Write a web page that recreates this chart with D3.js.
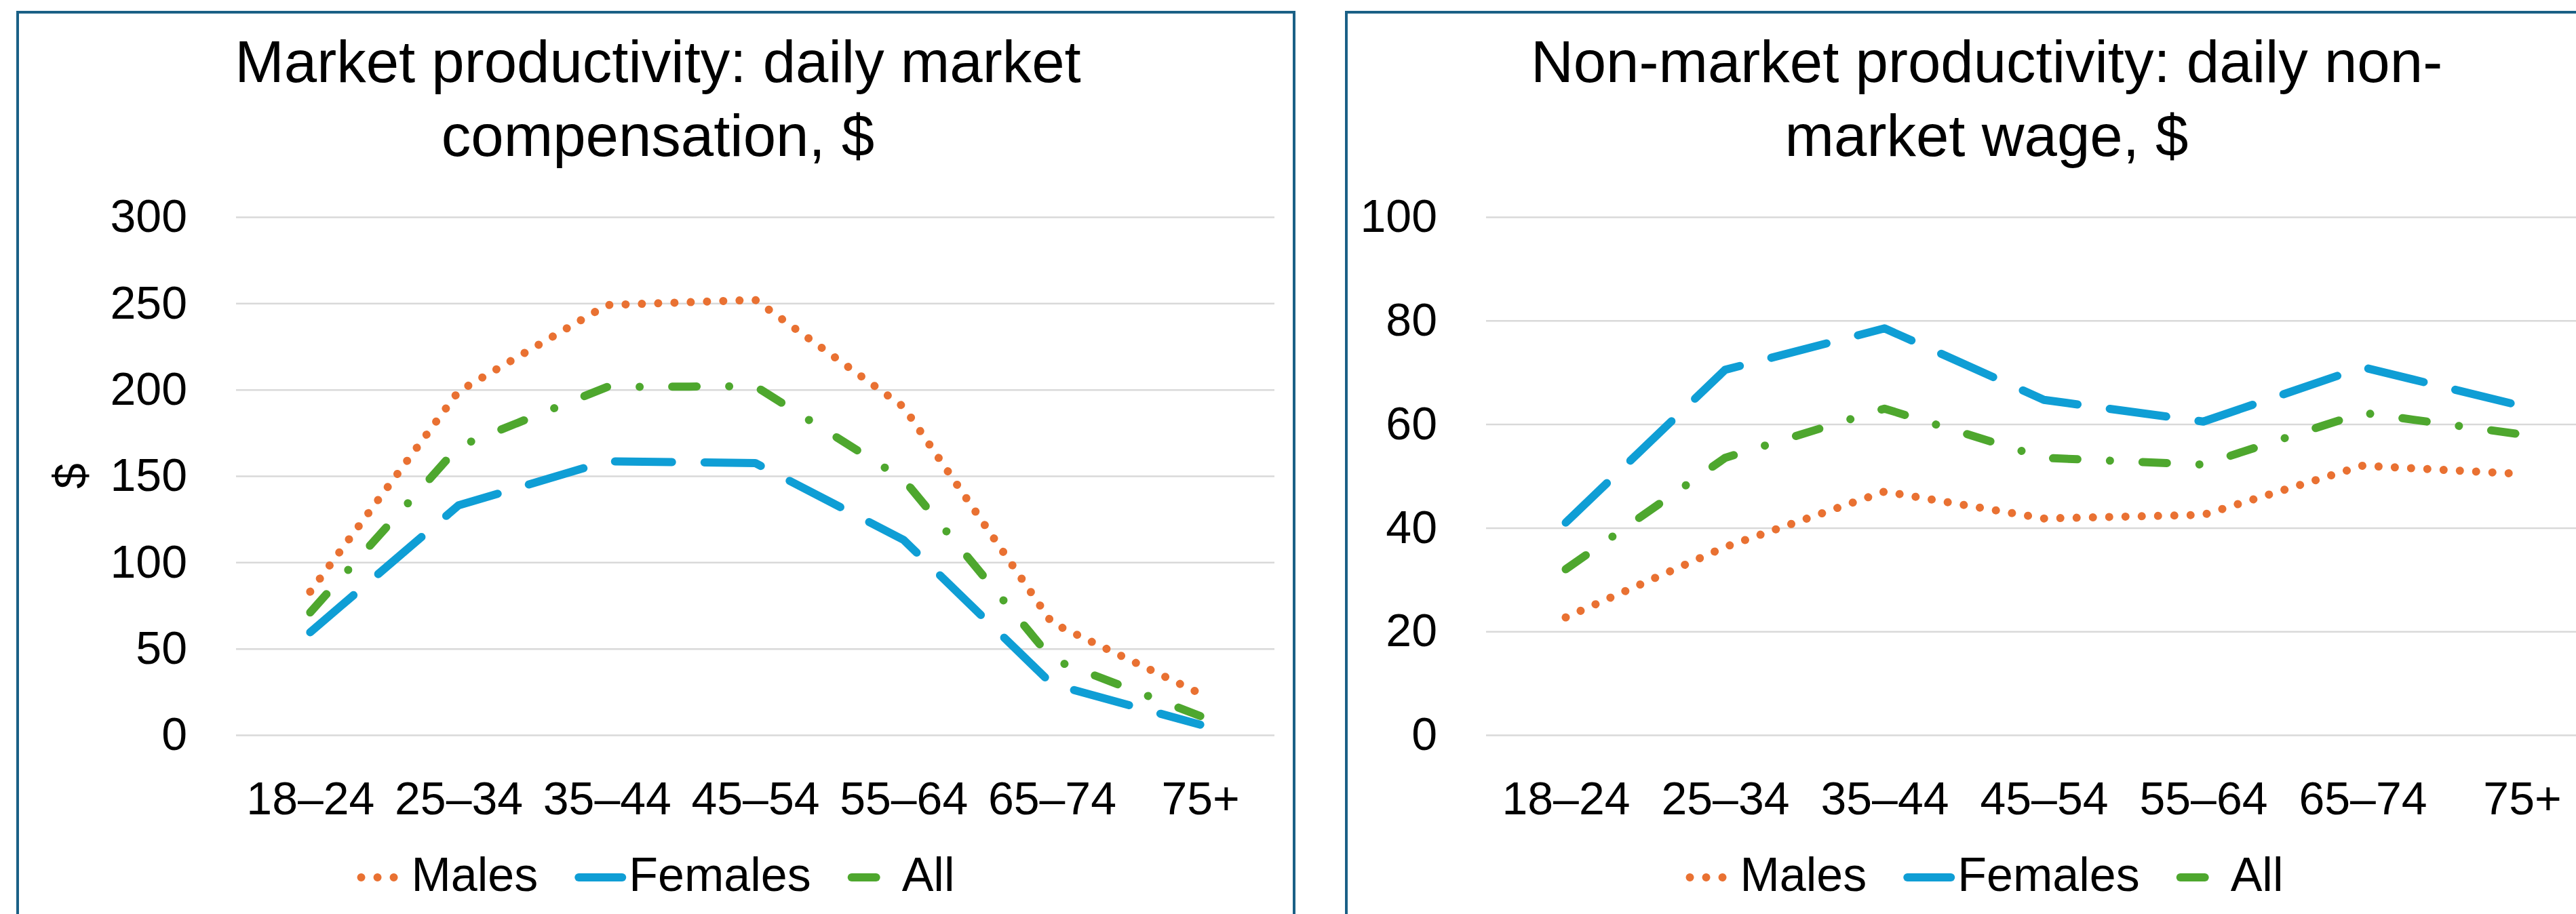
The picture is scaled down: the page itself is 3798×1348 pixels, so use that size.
<!DOCTYPE html>
<html>
<head>
<meta charset="utf-8">
<script src="https://cdn.jsdelivr.net/npm/d3@7"></script>
<style>
  html, body { margin: 0; padding: 0; background: #fff; }
  svg { display: block; font-family: "Liberation Sans", Arial, sans-serif; }
</style>
</head>
<body>
<svg id="chart" width="3798" height="1348"></svg>
<script>
// Age groups shared by both panels
const ageGroups = ["18–24", "25–34", "35–44", "45–54", "55–64", "65–74", "75+"];

// Market productivity: daily market compensation, $
const marketMales   = [83, 199, 249, 252, 190, 65, 24];
const marketFemales = [59.5, 133, 158.5, 157.5, 113, 29.5, 6];
const marketAll     = [71, 167, 201.5, 202, 148, 44, 11];
const marketTicks   = [0, 50, 100, 150, 200, 250, 300];

// Non-market productivity: daily non-market wage, $
const nonMarketMales   = [22.7, 36.3, 47, 41.8, 42.5, 52, 50.4];
const nonMarketFemales = [41, 70.5, 78.5, 64.7, 60.5, 71, 63.5];
const nonMarketAll     = [32, 53.5, 63, 53.5, 52.2, 62.2, 58];
const nonMarketTicks   = [0, 20, 40, 60, 80, 100];

const seriesNames = ["Males", "Females", "All"];
const marketTitle = ["Market productivity: daily market", "compensation, $"];
const nonMarketTitle = ["Non-market productivity: daily non-", "market wage, $"];
const marketAxisTitle = "$";

// Series styling: round dots, long dashes, dash-dot
const colors = { Males: "#E97132", Females: "#0F9ED5", All: "#4EA72E" };
const dashes = { Males: "0.01 24", Females: "84 48", All: "36 48 0.01 48" };

const panels = [
  {
    frame: [26, 1908], plot: [348, 1879],
    title: marketTitle, ticks: marketTicks, axisTitle: marketAxisTitle,
    series: { Males: marketMales, Females: marketFemales, All: marketAll }
  },
  {
    frame: [1985, 3867], plot: [2191, 3836],
    title: nonMarketTitle, ticks: nonMarketTicks, axisTitle: null,
    series: { Males: nonMarketMales, Females: nonMarketFemales, All: nonMarketAll }
  }
];

const svg = d3.select("#chart");
svg.append("rect").attr("width", 3798).attr("height", 1348).attr("fill", "#fff");

const yTop = 320, yBottom = 1084;
const strokeW = 12;

panels.forEach(p => {
  const g = svg.append("g");
  const mid = (p.frame[0] + p.frame[1]) / 2;

  // Chart frame
  g.append("rect")
    .attr("x", p.frame[0]).attr("y", 18)
    .attr("width", p.frame[1] - p.frame[0]).attr("height", 1500)
    .attr("fill", "none").attr("stroke", "#1A6086").attr("stroke-width", 4);

  // Title
  const title = g.append("text")
    .attr("text-anchor", "middle")
    .attr("font-size", 87).attr("fill", "#000");
  p.title.forEach((line, i) => {
    title.append("tspan").attr("x", mid + 3).attr("y", 121 + i * 109).text(line);
  });

  const x = d3.scalePoint().domain(ageGroups).range(p.plot).padding(0.5);
  const y = d3.scaleLinear().domain([0, d3.max(p.ticks)]).range([yBottom, yTop]);

  // Y axis with gridlines
  const yAxis = g.append("g")
    .attr("transform", `translate(${p.plot[0]},0)`)
    .call(d3.axisLeft(y).tickValues(p.ticks).tickSize(-(p.plot[1] - p.plot[0])).tickPadding(72).tickFormat(d3.format("d")));
  yAxis.select(".domain").remove();
  yAxis.selectAll(".tick line").attr("stroke", "#D9D9D9").attr("stroke-width", 2.5);
  yAxis.selectAll(".tick text")
    .attr("font-size", 68).attr("font-family", "Liberation Sans, Arial, sans-serif")
    .attr("fill", "#000");

  // X axis labels
  const xAxis = g.append("g")
    .attr("transform", `translate(0,${yBottom})`)
    .call(d3.axisBottom(x).tickSize(0).tickPadding(69));
  xAxis.select(".domain").remove();
  xAxis.selectAll(".tick text")
    .attr("font-size", 68).attr("font-family", "Liberation Sans, Arial, sans-serif")
    .attr("fill", "#000");

  // Y axis title
  if (p.axisTitle) {
    g.append("text")
      .attr("transform", `translate(127,${(yTop + yBottom) / 2}) rotate(-90)`)
      .attr("text-anchor", "middle")
      .attr("font-size", 68).attr("fill", "#000")
      .text(p.axisTitle);
  }

  // Series lines
  const line = d3.line()
    .x((d, i) => x(ageGroups[i]))
    .y(d => y(d));
  seriesNames.forEach(name => {
    g.append("path")
      .datum(p.series[name])
      .attr("d", line)
      .attr("fill", "none")
      .attr("stroke", colors[name])
      .attr("stroke-width", strokeW)
      .attr("stroke-linecap", "round")
      .attr("stroke-linejoin", "round")
      .attr("stroke-dasharray", dashes[name]);
  });

  // Legend, centred under the plot
  const legend = g.append("g");
  const symLen = 64, textGap = 10, itemGap = 54, legendFont = 70;
  const items = seriesNames.map(name => {
    const item = legend.append("g");
    item.append("path")
      .attr("fill", "none")
      .attr("stroke", colors[name])
      .attr("stroke-width", strokeW)
      .attr("stroke-linecap", "round")
      .attr("stroke-dasharray", dashes[name]);
    const t = item.append("text")
      .attr("font-size", legendFont).attr("fill", "#000")
      .text(name);
    return { item, t, w: t.node().getComputedTextLength() };
  });
  const total = items.reduce((s, it) => s + strokeW / 2 + symLen + textGap + it.w, 0) + itemGap * (items.length - 1);
  let cursor = mid - total / 2;
  items.forEach(it => {
    const s = cursor + strokeW / 2;
    it.item.select("path").attr("d", `M${s},1294H${s + symLen}`);
    it.t.attr("x", s + symLen + textGap).attr("y", 1314);
    cursor = s + symLen + textGap + it.w + itemGap;
  });
});
</script>
</body>
</html>
